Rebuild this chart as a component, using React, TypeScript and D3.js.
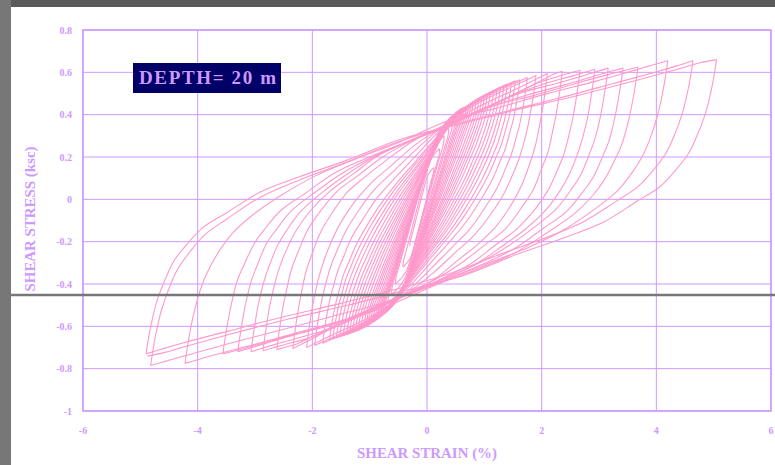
import React from 'react';
import * as d3 from 'd3';

// Peaks of each loading cycle (strain %, stress ksc)
const posStrain = [0.12, 0.22, 0.3, 0.38, 0.45, 0.52, 0.56, 0.6, 0.64, 0.68, 0.72, 0.76, 0.8, 0.85, 0.9, 0.95, 1.0, 1.05, 1.1, 1.16, 1.22, 1.28, 1.34, 1.4, 1.47, 1.54, 1.62, 1.75, 1.9, 2.1, 2.36, 2.67, 2.93, 3.16, 3.42, 3.68, 4.2, 4.64, 5.05];
const posStress = [0.15, 0.24, 0.3, 0.34, 0.38, 0.41, 0.42, 0.43, 0.435, 0.44, 0.445, 0.45, 0.455, 0.46, 0.47, 0.48, 0.49, 0.5, 0.505, 0.51, 0.52, 0.53, 0.535, 0.545, 0.55, 0.56, 0.565, 0.575, 0.585, 0.595, 0.605, 0.61, 0.615, 0.62, 0.62, 0.625, 0.655, 0.655, 0.66];
const negStrain = [-0.3, -0.42, -0.55, -0.62, -0.68, -0.73, -0.77, -0.8, -0.83, -0.86, -0.9, -0.94, -0.98, -1.02, -1.06, -1.1, -1.15, -1.2, -1.25, -1.3, -1.35, -1.4, -1.46, -1.52, -1.58, -1.64, -1.7, -1.82, -1.96, -2.1, -2.34, -2.62, -2.86, -3.07, -3.3, -3.56, -4.22, -4.82, -4.9, -4.88];
const negStress = [-0.22, -0.32, -0.4, -0.45, -0.49, -0.52, -0.54, -0.55, -0.555, -0.56, -0.57, -0.58, -0.585, -0.59, -0.6, -0.605, -0.61, -0.62, -0.625, -0.63, -0.635, -0.64, -0.645, -0.65, -0.655, -0.66, -0.665, -0.68, -0.69, -0.7, -0.705, -0.71, -0.715, -0.72, -0.72, -0.73, -0.775, -0.785, -0.73, -0.74];

// Outer-loop branch shape: stress travel fraction vs strain travel (% strain)
const outerD = [0, 0.04, 0.12, 0.25, 0.5, 0.75, 1.0, 1.5, 2.0, 2.8, 3.7, 4.6, 5.5, 6.5, 7.2, 8.0, 9.0, 9.6, 10.0];
const outerV = [0, 0.05, 0.13, 0.22, 0.32, 0.38, 0.43, 0.49, 0.55, 0.61, 0.67, 0.74, 0.78, 0.83, 0.86, 0.9, 0.95, 0.985, 1];
// Inner-loop branch shape: stress travel fraction vs strain travel fraction
const innerF = [0, 0.005, 0.02, 0.1, 0.2, 0.3, 0.4, 0.5, 0.6, 0.7, 0.8, 0.9, 1];
const innerV = [0, 0.03, 0.06, 0.15, 0.27, 0.39, 0.51, 0.63, 0.75, 0.87, 0.93, 0.97, 1];
const sampleF = [0, 0.004, 0.01, 0.02, 0.035, 0.05, 0.075, 0.1, 0.14, 0.2, 0.27, 0.35, 0.45, 0.55, 0.65, 0.75, 0.85, 0.93, 0.97, 1];

const xTicks = [-6, -4, -2, 0, 2, 4, 6];
const yTicks = [-1, -0.8, -0.6, -0.4, -0.2, 0, 0.2, 0.4, 0.6, 0.8];
const yTickLabels = ['-1', '-0.8', '-0.6', '-0.4', '-0.2', '0', '0.2', '0.4', '0.6', '0.8'];

const xTitle = 'SHEAR STRAIN (%)';
const yTitle = 'SHEAR STRESS (ksc)';
const boxLabel = 'DEPTH= 20 m';

const W = 775;
const H = 465;
const grid = '#cc99ff';
const pink = '#ff99cc';
const font = '"Liberation Serif", "Times New Roman", serif';

export default function App() {
  const x = d3.scaleLinear().domain([-6, 6]).range([83, 771]);
  const y = d3.scaleLinear().domain([-1, 0.8]).range([411, 30]);
  const gOuter = d3.scaleLinear().domain(outerD).range(outerV).clamp(true);
  const gInner = d3.scaleLinear().domain(innerF).range(innerV).clamp(true);
  const blend = d3.scaleLinear().domain([1.5, 4.5]).range([0, 1]).clamp(true);

  const branch = (x0: number, y0: number, x1: number, y1: number) => {
    const D = Math.abs(x1 - x0);
    const gD = gOuter(D);
    const w = blend(D);
    return sampleF.map((f) => {
      const v = (1 - w) * gInner(f) + w * (gOuter(f * D) / gD);
      return [x0 + (x1 - x0) * f, y0 + (y1 - y0) * v] as [number, number];
    });
  };

  const line = d3
    .line<[number, number]>()
    .x((d) => x(d[0]))
    .y((d) => y(d[1]))
    .curve(d3.curveCatmullRom.alpha(0.5));

  const paths: string[] = [];
  posStrain.forEach((ps, i) => {
    if (i < negStrain.length) {
      paths.push(line(branch(negStrain[i], negStress[i], ps, posStress[i])) || '');
    }
    if (i + 1 < negStrain.length) {
      paths.push(line(branch(ps, posStress[i], negStrain[i + 1], negStress[i + 1])) || '');
    }
  });

  return (
    <svg width={W} height={H} style={{ position: 'absolute', left: 0, top: 0, background: '#fff' }}>
      <rect x={0} y={0} width={W} height={H} fill="#fff" />
      {yTicks.map((t) => (
        <line key={'gy' + t} x1={x(-6)} x2={x(6)} y1={y(t)} y2={y(t)} stroke={grid} strokeWidth={1} />
      ))}
      {xTicks.map((t) => (
        <line key={'gx' + t} x1={x(t)} x2={x(t)} y1={y(-1)} y2={y(0.8)} stroke={grid} strokeWidth={1} />
      ))}
      <rect x={x(-6)} y={y(0.8)} width={x(6) - x(-6)} height={y(-1) - y(0.8)} fill="none" stroke={grid} strokeWidth={1.5} />
      <g fill="none" stroke={pink} strokeWidth={1.1}>
        {paths.map((p, i) => (
          <path key={i} d={p} />
        ))}
      </g>
      {yTicks.map((t, i) => (
        <text key={'ty' + t} x={72} y={y(t)} dy="0.35em" textAnchor="end" fontFamily={font} fontWeight="bold" fontSize={10} fill={grid}>
          {yTickLabels[i]}
        </text>
      ))}
      {xTicks.map((t) => (
        <text key={'tx' + t} x={x(t)} y={430} dy="0.35em" textAnchor="middle" fontFamily={font} fontWeight="bold" fontSize={10} fill={grid}>
          {String(t)}
        </text>
      ))}
      <text x={427} y={458} textAnchor="middle" fontFamily={font} fontWeight="bold" fontSize={14.5} fill={grid} textLength={140} lengthAdjust="spacingAndGlyphs">
        {xTitle}
      </text>
      <text transform="translate(35,219) rotate(-90)" textAnchor="middle" fontFamily={font} fontWeight="bold" fontSize={14.5} fill={grid} textLength={145} lengthAdjust="spacingAndGlyphs">
        {yTitle}
      </text>
      <rect x={133} y={63} width={148} height={30} fill="#000066" />
      <text x={139} y={84} fontFamily={font} fontWeight="bold" fontSize={19} fill={grid} textLength={137} lengthAdjust="spacing">
        {boxLabel}
      </text>
      <rect x={0} y={0} width={W} height={7} fill="#5a5a5a" />
      <rect x={0} y={0} width={11} height={H} fill="#777" />
      <line x1={0} x2={W} y1={295} y2={295} stroke="#777" strokeWidth={2.5} />
    </svg>
  );
}
